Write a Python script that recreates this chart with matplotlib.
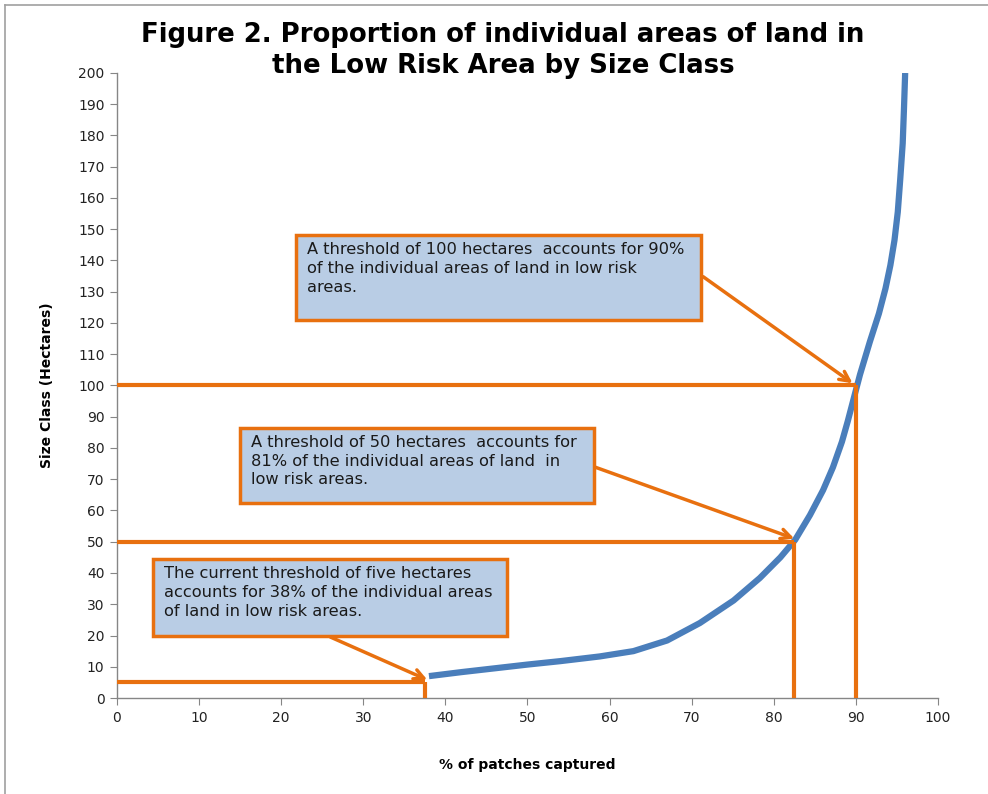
import matplotlib
matplotlib.use("Agg")
from matplotlib import pyplot as plt
from matplotlib.lines import Line2D
from matplotlib.patches import FancyBboxPatch

# curve: % of patches captured vs size class (hectares)
pct_captured = [38.0, 42.0, 46.0, 50.0, 54.0, 58.8, 62.9, 67.0, 71.0, 75.1,
                78.3, 80.8, 82.6, 84.4, 86.0, 87.2, 88.3, 89.0, 89.7, 90.5,
                91.7, 92.8, 93.6, 94.2, 94.7, 95.1, 95.4, 95.7, 95.85, 96.0]
size_class = [7.0, 8.3, 9.5, 10.7, 11.8, 13.3, 15.0, 18.4, 24.0, 31.2,
              38.4, 45.0, 50.6, 58.5, 66.5, 73.8, 82.0, 88.5, 95.5, 103.5,
              114.0, 123.0, 131.0, 138.5, 146.5, 155.5, 166.0, 177.5, 188.2, 200.0]

# thresholds (hectares) and share captured (%)
thresholds = [5, 50, 100]
captured = [37.5, 82.5, 90.0]

notes = [
    "A threshold of 100 hectares  accounts for 90%\nof the individual areas of land in low risk\nareas.",
    "A threshold of 50 hectares  accounts for\n81% of the individual areas of land  in\nlow risk areas.",
    "The current threshold of five hectares\naccounts for 38% of the individual areas\nof land in low risk areas.",
]
# box corners (x0, y0, x1, y1) in data units and arrow start points
boxes = [(21.8, 120.8, 71.1, 148.0), (15.0, 62.5, 58.1, 86.5), (4.4, 20.0, 47.5, 44.5)]
arrow_from = [(71.4, 134.8), (58.1, 74.0), (26.0, 19.5)]
arrow_to = [(89.6, 100.7), (82.5, 51.0), (37.8, 5.8)]

blue = "#4A7EBB"
orange = "#E8700F"
box_fill = "#B9CDE5"
gray = "#868686"

fig = plt.figure(figsize=(9.88, 7.94), dpi=100)
ax = fig.add_axes([0.1184, 0.1209, 0.831, 0.7872])

ax.plot(pct_captured, size_class, color=blue, lw=4.5, solid_capstyle="butt",
        solid_joinstyle="round", zorder=3)

for t, c in zip(thresholds, captured):
    ax.plot([0, c], [t, t], color=orange, lw=3, zorder=4, solid_capstyle="butt")
    ax.plot([c, c], [0, t], color=orange, lw=3, zorder=4, solid_capstyle="butt")

for (x0, y0, x1, y1), txt, src, dst in zip(boxes, notes, arrow_from, arrow_to):
    box = FancyBboxPatch((x0, y0), x1 - x0, y1 - y0, boxstyle="square,pad=0",
                         facecolor=box_fill, edgecolor=orange, lw=2.5, zorder=5)
    ax.add_patch(box)
    ax.text(x0 + 1.3, y1 - 2.2, txt, fontsize=11.7, va="top", ha="left",
            color="#1a1a1a", linespacing=1.33, zorder=6)
    ax.annotate("", xy=dst, xytext=src,
                arrowprops=dict(arrowstyle="->,head_length=0.7,head_width=0.35",
                                color=orange, lw=2.5, shrinkA=0, shrinkB=0),
                zorder=4)

ax.set_xlim(0, 100)
ax.set_ylim(0, 200)
ax.set_xticks(range(0, 101, 10))
ax.set_yticks(range(0, 201, 10))
ax.spines["top"].set_visible(False)
ax.spines["right"].set_visible(False)
for s in ["left", "bottom"]:
    ax.spines[s].set_color(gray)
    ax.spines[s].set_linewidth(1)
ax.tick_params(direction="out", length=5, color=gray, labelsize=10, labelcolor="#222222", pad=4)
ax.set_xlabel("% of patches captured", fontsize=10, fontweight="bold", labelpad=24)
ax.set_ylabel("Size Class (Hectares)", fontsize=10, fontweight="bold", labelpad=17)

fig.text(0.509, 0.972, "Figure 2. Proportion of individual areas of land in\nthe Low Risk Area by Size Class",
         ha="center", va="top", fontsize=18.7, fontweight="bold", linespacing=1.24)

# frame lines at top and left of the picture
fig.add_artist(Line2D([0.005, 0.005], [0, 0.994], color="#a0a0a0", lw=1.2, transform=fig.transFigure))
fig.add_artist(Line2D([0.005, 1], [0.994, 0.994], color="#a0a0a0", lw=1.2, transform=fig.transFigure))

fig.savefig("out.png", dpi=100)
